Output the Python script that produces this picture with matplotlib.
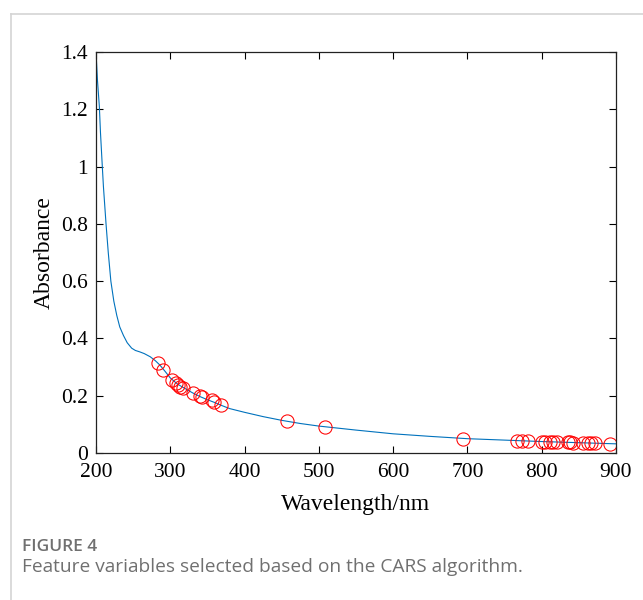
import matplotlib
matplotlib.use("Agg")
import matplotlib.pyplot as plt
from matplotlib.lines import Line2D

# Spectrum
wavelength = [200, 202, 204.5, 206, 208.5, 210, 213.5, 216.5, 220, 224, 228, 232, 237, 242,
              248, 253, 259, 265, 273, 280, 286, 293, 300, 310, 320, 330, 340, 350, 360, 370,
              380, 400, 425, 450, 475, 500, 550, 600, 650, 700, 750, 800, 850, 900]
absorbance = [1.40, 1.30, 1.21, 1.12, 1.00, 0.93, 0.80, 0.70, 0.60, 0.53, 0.48, 0.44, 0.41, 0.385,
              0.366, 0.358, 0.353, 0.347, 0.336, 0.322, 0.307, 0.285, 0.262, 0.240, 0.225, 0.210,
              0.197, 0.186, 0.176, 0.165, 0.155, 0.142, 0.127, 0.114, 0.103, 0.094, 0.080, 0.067,
              0.058, 0.050, 0.045, 0.040, 0.036, 0.032]

# CARS-selected feature variables
sel_wavelength = [284, 290, 302, 308, 311, 313, 317.5, 331, 340, 342.6, 355.6, 358.8, 368,
                  456.6, 508.2, 694.4, 767, 774, 782, 800, 804.4, 811, 815.5, 820,
                  835.6, 838, 842, 855.6, 862.4, 867, 871.5, 891.6]
sel_absorbance = [0.313, 0.290, 0.255, 0.245, 0.237, 0.232, 0.226, 0.208, 0.199, 0.197, 0.185,
                  0.179, 0.167, 0.112, 0.092, 0.049, 0.043, 0.043, 0.042, 0.040, 0.040, 0.039,
                  0.039, 0.038, 0.037, 0.037, 0.036, 0.035, 0.035, 0.034, 0.034, 0.033]

xticks = [200, 300, 400, 500, 600, 700, 800, 900]
yticks = [0, 0.2, 0.4, 0.6, 0.8, 1.0, 1.2, 1.4]
ytick_labels = ["0", "0.2", "0.4", "0.6", "0.8", "1", "1.2", "1.4"]

W, H = 643, 600
fig = plt.figure(figsize=(W / 100, H / 100), dpi=100)
ax = fig.add_axes([96 / W, 1 - 453 / H, (616 - 96) / W, (453 - 52) / H])

serif = ["Liberation Serif", "DejaVu Serif"]

ax.plot(wavelength, absorbance, color="#0072BD", lw=0.8)
ax.plot(sel_wavelength, sel_absorbance, ls="none", marker="o", ms=9.5,
        mfc="none", mec="#FF0000", mew=0.75)

ax.set_xlim(200, 900)
ax.set_ylim(0, 1.4)
ax.set_xticks(xticks)
ax.set_yticks(yticks)
ax.set_yticklabels(ytick_labels)
ax.tick_params(direction="in", top=True, right=True, length=5, width=0.8,
               labelsize=15.5)
ax.tick_params(axis="x", pad=7.5)
ax.tick_params(axis="y", pad=6)
for lab in ax.get_xticklabels() + ax.get_yticklabels():
    lab.set_family(serif)
for s in ax.spines.values():
    s.set_linewidth(0.9)
    s.set_color("#222222")

ax.set_xlabel("Wavelength/nm", fontsize=17, family=serif, labelpad=8)
ax.set_ylabel("Absorbance", fontsize=17, family=serif, labelpad=4)

# Frame of the figure panel (top and left edge)
fig.add_artist(Line2D([11 / W, 1], [1 - 14 / H, 1 - 14 / H], color="#d4d4d4", lw=1.2,
                      transform=fig.transFigure))
fig.add_artist(Line2D([11 / W, 11 / W], [0, 1 - 14 / H], color="#d4d4d4", lw=1.2,
                      transform=fig.transFigure))

sans = ["Open Sans", "DejaVu Sans"]
fig.text(22 / W, 1 - 547 / H, "FIGURE 4", fontsize=12.5, family=sans, color="#707070",
         va="center", ha="left", fontweight="semibold")
fig.text(22 / W, 1 - 567 / H, "Feature variables selected based on the CARS algorithm.",
         fontsize=13.8, family=sans, color="#707070", va="center", ha="left")

fig.savefig("out.png", dpi=100)
